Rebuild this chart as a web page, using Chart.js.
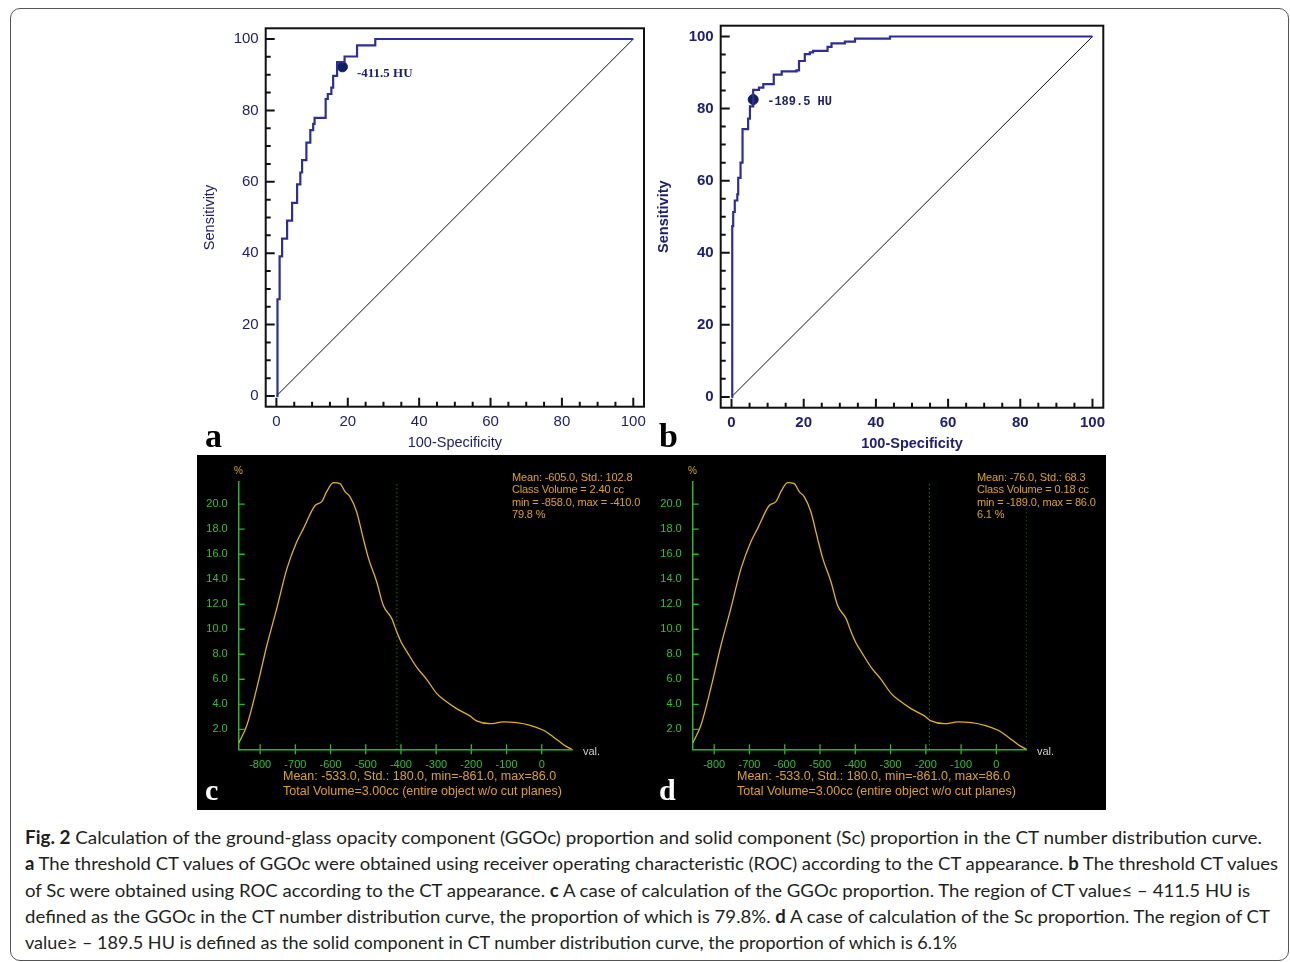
<!DOCTYPE html>
<html>
<head>
<meta charset="utf-8">
<script src="https://cdn.jsdelivr.net/npm/chart.js@4.4.1/dist/chart.umd.min.js"></script>
<style>
  body { margin: 0; width: 1290px; height: 962px; background: #fff; position: relative; overflow: hidden; font-family: "Liberation Sans", Arial, sans-serif; }
  #frame { position: absolute; left: 10px; top: 8px; width: 1279px; height: 953px; box-sizing: border-box; border: 1px solid #555; border-radius: 10px; }
  #dark { position: absolute; left: 197px; top: 455px; width: 909px; height: 355px; background: #000; }
  canvas { position: absolute; }
  .tag { position: absolute; font-family: "Liberation Serif", serif; font-weight: bold; line-height: 1; }
  .stats { position: absolute; color: #e0a400; font-size: 11px; line-height: 12.4px; letter-spacing: -0.15px; white-space: pre; }
  .foot { position: absolute; color: #e0a400; font-size: 12.5px; line-height: 15px; white-space: pre; }
  .pct { position: absolute; color: #d9a820; font-size: 10px; line-height: 10px; }
  .val { position: absolute; color: #cfcfbf; font-size: 11px; line-height: 11px; }
  #caption { position: absolute; left: 25px; top: 824px; font-family: Lato, sans-serif; font-size: 18px; line-height: 26.3px; color: #231f20; }
  #caption div { white-space: nowrap; width: max-content; transform-origin: 0 0; }
</style>
</head>
<body>
<div id="frame"></div>
<div id="dark"></div>

<canvas id="rocA" width="460" height="440" style="left:195px;top:18px"></canvas>
<canvas id="rocB" width="465" height="445" style="left:650px;top:15px"></canvas>
<canvas id="histC" width="454" height="355" style="left:197px;top:455px"></canvas>
<canvas id="histD" width="455" height="355" style="left:651px;top:455px"></canvas>

<div class="tag" style="left:205px;top:419px;font-size:34px;color:#000">a</div>
<div class="tag" style="left:659px;top:419px;font-size:34px;color:#000">b</div>
<div class="tag" style="left:205px;top:775px;font-size:30px;color:#fff">c</div>
<div class="tag" style="left:659px;top:775px;font-size:30px;color:#fff">d</div>

<div class="pct" style="left:234px;top:466px">%</div>
<div class="pct" style="left:688px;top:466px">%</div>
<div class="val" style="left:583px;top:746px">val.</div>
<div class="val" style="left:1037px;top:746px">val.</div>

<div class="stats" style="left:512px;top:471px">Mean: -605.0, Std.: 102.8
Class Volume = 2.40 cc
min = -858.0, max = -410.0
79.8 %</div>
<div class="stats" style="left:977px;top:471px">Mean: -76.0, Std.: 68.3
Class Volume = 0.18 cc
min = -189.0, max = 86.0
6.1 %</div>
<div class="foot" style="left:283px;top:769px">Mean: -533.0, Std.: 180.0, min=-861.0, max=86.0
Total Volume=3.00cc (entire object w/o cut planes)</div>
<div class="foot" style="left:737px;top:769px">Mean: -533.0, Std.: 180.0, min=-861.0, max=86.0
Total Volume=3.00cc (entire object w/o cut planes)</div>

<div id="caption">
  <div><b>Fig. 2</b> Calculation of the ground-glass opacity component (GGOc) proportion and solid component (Sc) proportion in the CT number distribution curve.</div>
  <div><b>a</b> The threshold CT values of GGOc were obtained using receiver operating characteristic (ROC) according to the CT appearance. <b>b</b> The threshold CT values</div>
  <div>of Sc were obtained using ROC according to the CT appearance. <b>c</b> A case of calculation of the GGOc proportion. The region of CT value≤ – 411.5 HU is</div>
  <div>defined as the GGOc in the CT number distribution curve, the proportion of which is 79.8%. <b>d</b> A case of calculation of the Sc proportion. The region of CT</div>
  <div>value≥ – 189.5 HU is defined as the solid component in CT number distribution curve, the proportion of which is 6.1%</div>
</div>

<script>
// ROC a (GGOc threshold): 100-specificity vs sensitivity, step corners
const rocAFpr  = [0, 0.3, 0.9, 1.6, 3.0, 4.4, 5.8, 6.7, 7.2, 8.4, 9.5, 10.3, 10.7, 13.8, 14.4, 15.4, 15.9, 17.0, 19.1, 22.6, 27.7, 100];
const rocASens = [0, 27.1, 39.1, 44.1, 49.1, 54.1, 59.3, 62.6, 66.1, 71.0, 74.5, 76.2, 77.9, 83.2, 84.6, 86.4, 89.7, 93.5, 95.1, 98.2, 100, 100];
const cutA = [18.5, 92.2];

// ROC b (Sc threshold)
const rocBFpr  = [0, 0.2, 0.46, 0.9, 1.6, 1.85, 2.5, 3.05, 4.6, 5.1, 6.0, 7.6, 8.8, 11.7, 13.9, 18.0, 18.7, 20.3, 21.7, 22.6, 26.6, 27.7, 31.4, 34.2, 43.9, 100];
const rocBSens = [0, 47.4, 51.3, 54.5, 56.2, 60.8, 65.0, 74.3, 77.2, 80.6, 85.2, 85.8, 86.8, 89.4, 90.3, 90.6, 93.2, 95.1, 95.6, 96.0, 97.1, 98.1, 98.6, 99.4, 100, 100];
const cutB = [6.0, 82.5];

const chanceLine = [0, 100];
const rocTicks = [0, 20, 40, 60, 80, 100];
const rocMinor = [5, 10, 15, 25, 30, 35, 45, 50, 55, 65, 70, 75, 85, 90, 95];

// CT number distribution curve (same lesion in c and d)
const histHU  = [-861, -838, -810, -781, -753, -724, -696, -677, -644, -625, -611, -592, -573, -559, -545, -526, -507, -492, -469, -450, -426, -412, -398, -384, -355, -327, -298, -275, -242, -204, -185, -147, -109, -71, -33, 5, 33, 62, 85];
const histPct = [0.9, 2.3, 5.25, 8.7, 11.65, 14.85, 17.0, 18.05, 19.9, 20.2, 21.0, 21.73, 21.65, 21.0, 20.6, 19.4, 17.25, 15.65, 13.8, 11.9, 10.85, 9.8, 8.9, 8.25, 6.95, 6.0, 4.85, 4.3, 3.65, 3.07, 2.67, 2.45, 2.59, 2.53, 2.32, 1.92, 1.39, 0.77, 0.4];
const histXTicks = [-800, -700, -600, -500, -400, -300, -200, -100, 0];
const histYTicks = [2, 4, 6, 8, 10, 12, 14, 16, 18, 20];
const histRange = [-861, 86];
const histYRange = [0.4, 21.8];
const cutsC = [-411.5];
const cutsD = [-189.5, 86];

function marksPlugin(cfg) {
  return {
    id: 'marks',
    afterDatasetsDraw(chart) {
      const { ctx, chartArea: a, scales } = chart;
      ctx.save();
      ctx.strokeStyle = cfg.color;
      cfg.sets.forEach(s => {
        ctx.lineWidth = s.width;
        ctx.beginPath();
        s.values.forEach(v => {
          if (s.axis === 'x') {
            const px = scales.x.getPixelForValue(v);
            ctx.moveTo(px, a.bottom + s.out);
            ctx.lineTo(px, a.bottom - s.in);
          } else {
            const py = scales.y.getPixelForValue(v);
            ctx.moveTo(a.left - s.out, py);
            ctx.lineTo(a.left + s.in, py);
          }
        });
        ctx.stroke();
      });
      if (cfg.frame) {
        ctx.lineWidth = cfg.frame;
        ctx.strokeRect(a.left, a.top, a.right - a.left, a.bottom - a.top);
      }
      if (cfg.label) {
        const pt = chart.getDatasetMeta(cfg.label.dataset).data[0];
        ctx.fillStyle = cfg.label.color;
        ctx.font = cfg.label.font;
        ctx.textBaseline = 'middle';
        ctx.fillText(cfg.label.text, pt.x + cfg.label.dx, pt.y + cfg.label.dy);
      }
      ctx.restore();
    }
  };
}

function rocChart(id, fpr, sens, cut, cfg) {
  const navy = '#1e2078';
  const tickFont = { family: 'Liberation Sans', size: 15, weight: cfg.weight };
  const titleFont = { family: 'Liberation Sans', size: 14.5, weight: cfg.weight };
  return new Chart(document.getElementById(id), {
    type: 'line',
    data: {
      datasets: [
        { data: fpr.map((x, i) => ({ x, y: sens[i] })), stepped: 'before', borderColor: '#2d2d9e', borderWidth: 2.2, pointRadius: 0 },
        { data: chanceLine.map(v => ({ x: v, y: v })), borderColor: '#111', borderWidth: 1, pointRadius: 0 },
        { data: [{ x: cut[0], y: cut[1] }], showLine: false, pointRadius: 5, backgroundColor: '#0e1f5e', borderColor: '#0e1f5e' }
      ]
    },
    options: {
      responsive: false, animation: false, devicePixelRatio: 1,
      layout: { padding: { top: cfg.padTop, right: cfg.padRight, bottom: 0, left: 0 } },
      plugins: { legend: { display: false }, tooltip: { enabled: false } },
      scales: {
        x: {
          type: 'linear', min: -3, max: 103,
          afterBuildTicks: s => { s.ticks = rocTicks.map(v => ({ value: v })); },
          afterFit: s => { s.height = cfg.xH; s.paddingLeft = 0; s.paddingRight = 0; },
          grid: { display: false, drawTicks: false }, border: { display: false },
          ticks: { color: navy, font: tickFont, padding: cfg.xPad, maxRotation: 0, autoSkip: false },
          title: { display: true, text: '100-Specificity', color: navy, font: titleFont, padding: { top: 0, bottom: cfg.xTitlePad } }
        },
        y: {
          type: 'linear', min: -3, max: 103,
          afterBuildTicks: s => { s.ticks = rocTicks.map(v => ({ value: v })); },
          afterFit: s => { s.width = cfg.yW; s.paddingTop = 0; s.paddingBottom = 0; },
          grid: { display: false, drawTicks: false }, border: { display: false },
          ticks: { color: navy, font: tickFont, padding: 7, autoSkip: false },
          title: { display: true, text: 'Sensitivity', color: navy, font: titleFont, padding: { top: cfg.yTitlePad, bottom: 0 } }
        }
      }
    },
    plugins: [marksPlugin({
      color: '#111', frame: 2,
      sets: [
        { axis: 'x', values: rocTicks, in: 9, out: 0, width: 2 },
        { axis: 'x', values: rocMinor, in: 5, out: 0, width: 2 },
        { axis: 'y', values: rocTicks, in: 9, out: 0, width: 2 },
        { axis: 'y', values: rocMinor, in: 5, out: 0, width: 2 }
      ],
      label: cfg.label
    })]
  });
}

function histChart(id, cuts, padRight) {
  const green = '#2ac42a';
  const tickFont = { family: 'Liberation Sans', size: 11 };
  return new Chart(document.getElementById(id), {
    type: 'line',
    data: {
      datasets: [
        { data: histHU.map((x, i) => ({ x, y: histPct[i] })), borderColor: '#e6b400', borderWidth: 1.3, pointRadius: 0, cubicInterpolationMode: 'monotone' },
        ...cuts.map(c => ({
          data: histYRange.map(y => ({ x: c, y })),
          borderColor: '#1ea81e', borderWidth: 1, borderDash: [1, 3], pointRadius: 0
        }))
      ]
    },
    options: {
      responsive: false, animation: false, devicePixelRatio: 1,
      layout: { padding: { top: 26.7, right: padRight, bottom: 0, left: 0 } },
      plugins: { legend: { display: false }, tooltip: { enabled: false } },
      scales: {
        x: {
          type: 'linear', min: histRange[0], max: histRange[1],
          afterBuildTicks: s => { s.ticks = histXTicks.map(v => ({ value: v })); },
          afterFit: s => { s.height = 60.7; s.paddingLeft = 0; s.paddingRight = 0; },
          grid: { display: false, drawTicks: false },
          border: { display: true, color: '#22bb22', width: 1.5 },
          ticks: { color: green, font: tickFont, padding: 9, maxRotation: 0, autoSkip: false, callback: v => String(v) }
        },
        y: {
          type: 'linear', min: histYRange[0], max: histYRange[1],
          afterBuildTicks: s => { s.ticks = histYTicks.map(v => ({ value: v })); },
          afterFit: s => { s.width = 41.7; s.paddingTop = 0; s.paddingBottom = 0; },
          grid: { display: false, drawTicks: false },
          border: { display: true, color: '#22bb22', width: 1.5 },
          ticks: { color: green, font: tickFont, padding: 11, autoSkip: false, callback: v => v.toFixed(1) }
        }
      }
    },
    plugins: [marksPlugin({
      color: '#22bb22',
      sets: [
        { axis: 'x', values: histXTicks, in: 5, out: 5, width: 1.3 },
        { axis: 'y', values: histYTicks, in: 6, out: 0, width: 1.3 }
      ]
    })]
  });
}

rocChart('rocA', rocAFpr, rocASens, cutA, {
  weight: 'normal', padTop: 10.3, padRight: 11, yW: 70.7, xH: 51.3, xPad: 6, xTitlePad: 6.3, yTitlePad: 6.3,
  label: { dataset: 2, text: '-411.5 HU', dx: 14.5, dy: 6.5, color: '#1b1f6b', font: 'bold 13px "Liberation Serif"' }
});
rocChart('rocB', rocBFpr, rocBSens, cutB, {
  weight: 'bold', padTop: 10.7, padRight: 11.7, yW: 70.7, xH: 52.3, xPad: 6, xTitlePad: 7.3, yTitlePad: 5.3,
  label: { dataset: 2, text: '-189.5 HU', dx: 14, dy: 2.5, color: '#1b1f6b', font: 'bold 12px "Liberation Mono"' }
});
histChart('histC', cutsC, 79);
histChart('histD', cutsD, 79.3);

// stretch caption lines to their printed widths
const captionWidths = [1237, 1253, 1225, 1245, 932];
document.fonts.ready.then(() => {
  document.querySelectorAll('#caption div').forEach((d, i) => {
    const w = d.getBoundingClientRect().width;
    d.style.transform = 'scaleX(' + (captionWidths[i] / w) + ')';
  });
});
</script>
</body>
</html>
